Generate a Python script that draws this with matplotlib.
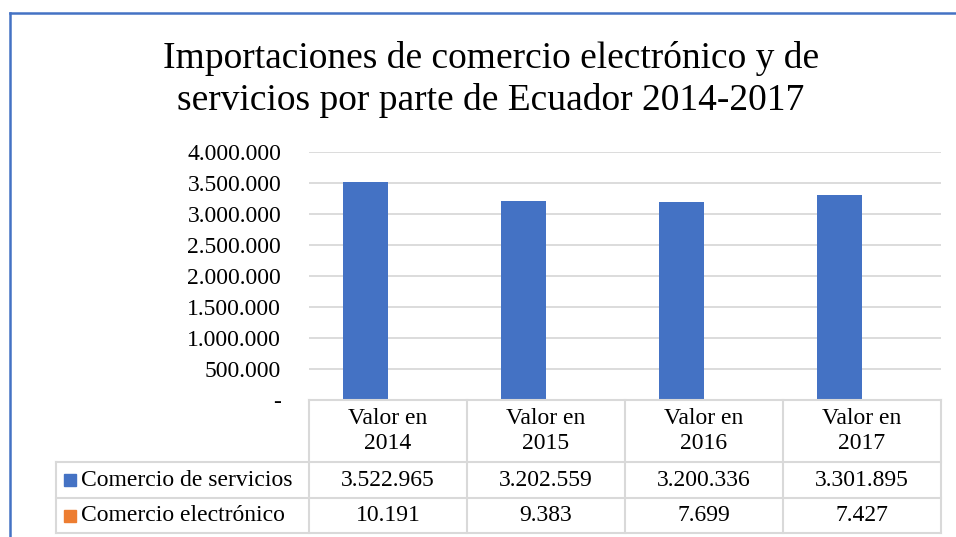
import matplotlib.pyplot as plt
from matplotlib.lines import Line2D
from matplotlib.patches import Rectangle

plt.rcParams['font.family'] = ['Liberation Serif', 'DejaVu Serif']

years = ['2014', '2015', '2016', '2017']
col_labels = ['Valor en\n' + y for y in years]
servicios = [3522965, 3202559, 3200336, 3301895]
electronico = [10191, 9383, 7699, 7427]
series_names = ['Comercio de servicios', 'Comercio electrónico']
blue = '#4472C4'
orange = '#ED7D31'
grid_c = '#d9d9d9'


def fmt(v):
    if v == 0:
        return '-'
    return f'{int(v):,}'.replace(',', '.')


fig = plt.figure(figsize=(9.56, 5.37), dpi=100)
ax = fig.add_axes([309 / 956, 1 - 400 / 537, 632 / 956, 248 / 537])

x = list(range(len(years)))
w = 0.285
ax.bar([i - w / 2 for i in x], servicios, width=w, color=blue, zorder=3)
ax.bar([i + w / 2 for i in x], electronico, width=w, color=orange, zorder=3)

ax.set_xlim(-0.5, len(years) - 0.5)
ax.set_ylim(0, 4000000)
ticks = list(range(0, 4000001, 500000))
ax.set_yticks(ticks)
ax.set_yticklabels([fmt(t) for t in ticks], fontsize=17)
ax.tick_params(axis='y', length=0, pad=20)
ax.set_xticks([])
for t in ticks[1:]:
    ax.axhline(t, color=grid_c, lw=1.3, zorder=1)
for s in ax.spines.values():
    s.set_visible(False)

# data table below the plot
px = 1 / 248
rows_y = [0, -62 * px, -98 * px, -133 * px]
left_leg = (56 - 309) / 632
tr = ax.get_xaxis_transform()
ax.plot([0, 1], [0, 0], transform=ax.transAxes, color=grid_c, lw=1.5, clip_on=False, zorder=5)
for yy in rows_y[1:]:
    ax.plot([left_leg, 1], [yy, yy], transform=ax.transAxes, color=grid_c, lw=1.5, clip_on=False)
for e in [i - 0.5 for i in range(len(years) + 1)]:
    ax.plot([e, e], [0, rows_y[-1]], transform=tr, color=grid_c, lw=1.5, clip_on=False)
ax.plot([left_leg, left_leg], [rows_y[1], rows_y[-1]], transform=ax.transAxes,
        color=grid_c, lw=1.5, clip_on=False)

for i, lab in enumerate(col_labels):
    ax.text(i, (rows_y[0] + rows_y[1]) / 2, lab, transform=tr, ha='center', va='center',
            fontsize=17, linespacing=1.25)

for r, (vals, name, c) in enumerate([(servicios, series_names[0], blue),
                                      (electronico, series_names[1], orange)]):
    yc = (rows_y[r + 1] + rows_y[r + 2]) / 2
    for i, v in enumerate(vals):
        ax.text(i, yc, fmt(v), transform=tr, ha='center', va='center', fontsize=17)
    sq = 12 / 632
    ax.add_patch(Rectangle(((64 - 309) / 632, yc - 6 * px), sq, 12 * px, transform=ax.transAxes,
                           color=c, clip_on=False))
    ax.text((81 - 309) / 632, yc, name, transform=ax.transAxes, ha='left', va='center',
            fontsize=17)

# title
fig.text(491 / 956, 1 - 68 / 537, 'Importaciones de comercio electrónico y de',
         ha='center', va='baseline', fontsize=27)
fig.text(491 / 956, 1 - 110 / 537, 'servicios por parte de Ecuador 2014-2017',
         ha='center', va='baseline', fontsize=27)

# outer frame
fig.add_artist(Line2D([10 / 956, 10 / 956], [0, 1 - 13 / 537], color=blue, lw=1.8))
fig.add_artist(Line2D([10 / 956, 1], [1 - 13 / 537, 1 - 13 / 537], color=blue, lw=1.8))

fig.savefig('out.png', dpi=100)
